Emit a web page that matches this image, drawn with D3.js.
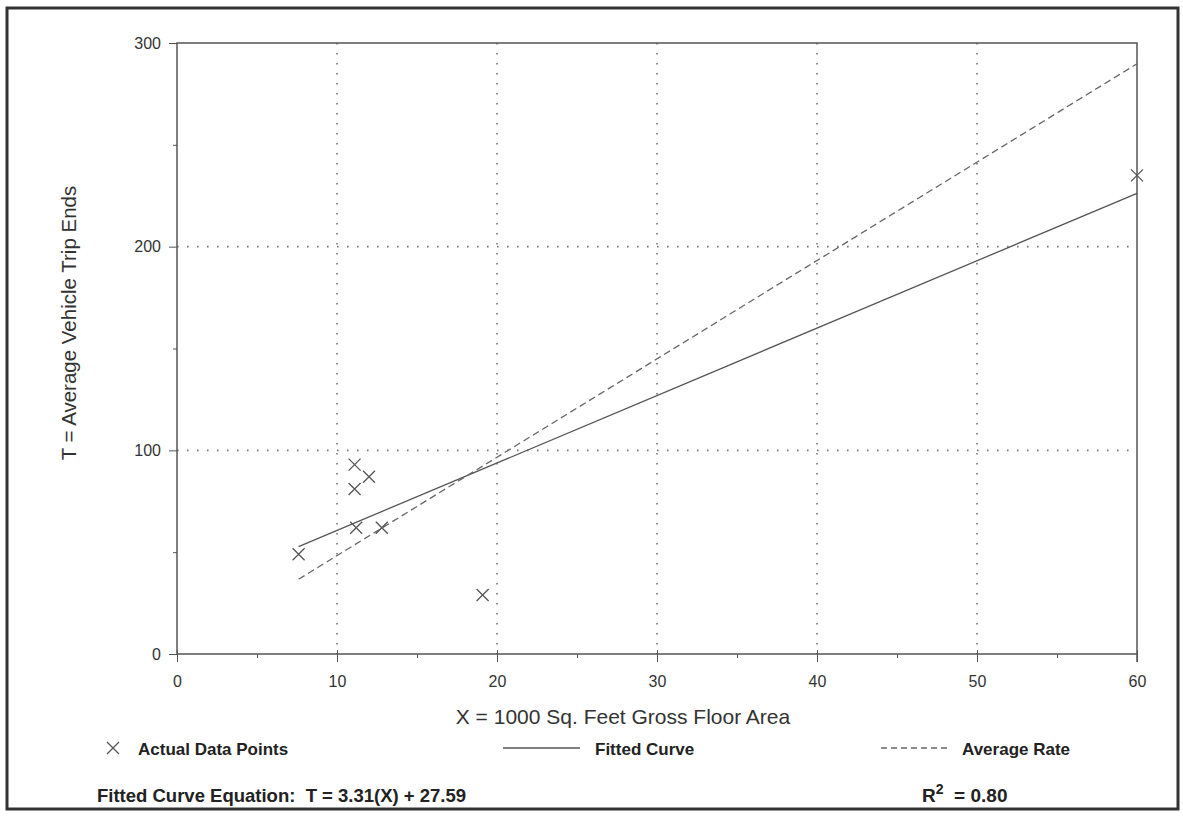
<!DOCTYPE html>
<html>
<head>
<meta charset="utf-8">
<script src="https://cdn.jsdelivr.net/npm/d3@7"></script>
<style>
  body { margin: 0; background: #fff; }
  text { font-family: "Liberation Sans", Arial, Helvetica, sans-serif; }
</style>
</head>
<body>
<div id="canvas"></div>
<script>
"use strict"

// data
let floorArea = [7.6, 11.1, 11.1, 12.0, 11.2, 12.8, 19.1, 60.0];
let tripEnds  = [49, 93, 81, 87, 62, 62, 29, 235];
let xTicks = [0, 10, 20, 30, 40, 50, 60];
let yTicks = [0, 100, 200, 300];
let fitSlope = 3.31;
let fitIntercept = 27.59;
let averageRate = 4.83;
let lineRange = [7.6, 60];

let drawingWidth = 1183;
let drawingHeight = 816;

let drawing = d3.select("#canvas")
    .append("svg")
    .attr("width", drawingWidth)
    .attr("height", drawingHeight);

/* outer frame */
drawing.append("rect")
    .attr("x", 7)
    .attr("y", 8)
    .attr("width", 1171)
    .attr("height", 801)
    .attr("fill", "white")
    .attr("stroke", "#333")
    .attr("stroke-width", 3);

let x = d3.scaleLinear().domain([0, 60]).range([177, 1137]);
let y = d3.scaleLinear().domain([0, 300]).range([654, 43]);

/* dotted grid */
drawing.append("g").selectAll("line")
    .data(xTicks.slice(1, -1))
    .join("line")
    .attr("x1", d => x(d)).attr("x2", d => x(d))
    .attr("y1", y(300)).attr("y2", y(0))
    .attr("stroke", "#777")
    .attr("stroke-width", 1.6)
    .attr("stroke-dasharray", "1.6,8.4");

drawing.append("g").selectAll("line")
    .data(yTicks.slice(1, -1))
    .join("line")
    .attr("x1", x(0)).attr("x2", x(60))
    .attr("y1", d => y(d)).attr("y2", d => y(d))
    .attr("stroke", "#777")
    .attr("stroke-width", 1.6)
    .attr("stroke-dasharray", "1.6,8.4");

/* axes */
let minorX = d3.range(5, 60, 10);
let minorY = d3.range(50, 300, 100);

drawing.append("g")
    .attr("transform", `translate(0,${y(0)})`)
    .call(d3.axisBottom(x).tickValues(minorX).tickSize(4).tickFormat(""))
    .call(g => g.select(".domain").remove())
    .call(g => g.selectAll("line").attr("stroke", "#555"));

drawing.append("g")
    .attr("transform", `translate(0,${y(0)})`)
    .call(d3.axisBottom(x).tickValues(xTicks).tickSize(8).tickPadding(14))
    .call(g => g.select(".domain").remove())
    .call(g => g.selectAll("line").attr("stroke", "#555").attr("y1", -4))
    .call(g => g.selectAll("text")
        .attr("font-size", 16)
        .attr("fill", "#333")
        .style("font-family", "'Liberation Sans', Arial, sans-serif"));

drawing.append("g")
    .attr("transform", `translate(${x(0)},0)`)
    .call(d3.axisLeft(y).tickValues(minorY).tickSize(4).tickFormat(""))
    .call(g => g.select(".domain").remove())
    .call(g => g.selectAll("line").attr("stroke", "#555"));

drawing.append("g")
    .attr("transform", `translate(${x(0)},0)`)
    .call(d3.axisLeft(y).tickValues(yTicks).tickSize(8).tickPadding(8))
    .call(g => g.select(".domain").remove())
    .call(g => g.selectAll("line").attr("stroke", "#555"))
    .call(g => g.selectAll("text")
        .attr("font-size", 16)
        .attr("fill", "#333")
        .style("font-family", "'Liberation Sans', Arial, sans-serif"));

/* plot frame: left, top, right and bottom */
drawing.append("path")
    .attr("d", `M${x(0)},${y(0)}V${y(300)}H${x(60)}V${y(0) + 8}M${x(0)},${y(0)}H${x(60)}`)
    .attr("fill", "none")
    .attr("stroke", "#555")
    .attr("stroke-width", 1.5);

/* fitted curve and average rate */
let fitLine = d3.line()
    .x(d => x(d))
    .y(d => y(fitSlope * d + fitIntercept));

let rateLine = d3.line()
    .x(d => x(d))
    .y(d => y(averageRate * d));

drawing.append("path")
    .attr("d", fitLine(lineRange))
    .attr("fill", "none")
    .attr("stroke", "#555")
    .attr("stroke-width", 1.3);

drawing.append("path")
    .attr("d", rateLine(lineRange))
    .attr("fill", "none")
    .attr("stroke", "#666")
    .attr("stroke-width", 1.3)
    .attr("stroke-dasharray", "7,4");

/* data points as crosses */
let cross = (cx, cy, r) => `M${cx - r},${cy - r}L${cx + r},${cy + r}M${cx - r},${cy + r}L${cx + r},${cy - r}`;

drawing.append("g").selectAll("path")
    .data(d3.zip(floorArea, tripEnds))
    .join("path")
    .attr("d", d => cross(x(d[0]), y(d[1]), 6))
    .attr("fill", "none")
    .attr("stroke", "#555")
    .attr("stroke-width", 1.3);

/* axis titles */
drawing.append("text")
    .attr("x", 623)
    .attr("y", 724)
    .attr("text-anchor", "middle")
    .attr("font-size", 21)
    .attr("fill", "#333")
    .text("X = 1000 Sq. Feet Gross Floor Area");

drawing.append("text")
    .attr("transform", `translate(76,323) rotate(-90)`)
    .attr("text-anchor", "middle")
    .attr("font-size", 20.5)
    .attr("fill", "#333")
    .text("T = Average Vehicle Trip Ends");

/* legend */
drawing.append("path")
    .attr("d", cross(113, 748, 6))
    .attr("fill", "none")
    .attr("stroke", "#555")
    .attr("stroke-width", 1.3);

drawing.append("text")
    .attr("x", 138).attr("y", 755)
    .attr("font-size", 17).attr("font-weight", "bold").attr("fill", "#222")
    .text("Actual Data Points");

drawing.append("line")
    .attr("x1", 503).attr("x2", 580)
    .attr("y1", 748).attr("y2", 748)
    .attr("stroke", "#555").attr("stroke-width", 1.3);

drawing.append("text")
    .attr("x", 595).attr("y", 755)
    .attr("font-size", 17).attr("font-weight", "bold").attr("fill", "#222")
    .text("Fitted Curve");

drawing.append("line")
    .attr("x1", 881).attr("x2", 948)
    .attr("y1", 748).attr("y2", 748)
    .attr("stroke", "#666").attr("stroke-width", 1.3)
    .attr("stroke-dasharray", "6,4");

drawing.append("text")
    .attr("x", 962).attr("y", 755)
    .attr("font-size", 17).attr("font-weight", "bold").attr("fill", "#222")
    .text("Average Rate");

/* equation and R squared */
drawing.append("text")
    .attr("x", 97).attr("y", 802)
    .attr("font-size", 18.5).attr("font-weight", "bold").attr("fill", "#222")
    .attr("xml:space", "preserve")
    .text("Fitted Curve Equation:  T = 3.31(X) + 27.59");

let r2 = drawing.append("text")
    .attr("x", 922).attr("y", 802)
    .attr("font-size", 19).attr("font-weight", "bold").attr("fill", "#222");
r2.append("tspan").text("R");
r2.append("tspan").attr("font-size", 14).attr("dy", -8).text("2");
r2.append("tspan").attr("dy", 8).attr("xml:space", "preserve").text("  = 0.80");
</script>
</body>
</html>
